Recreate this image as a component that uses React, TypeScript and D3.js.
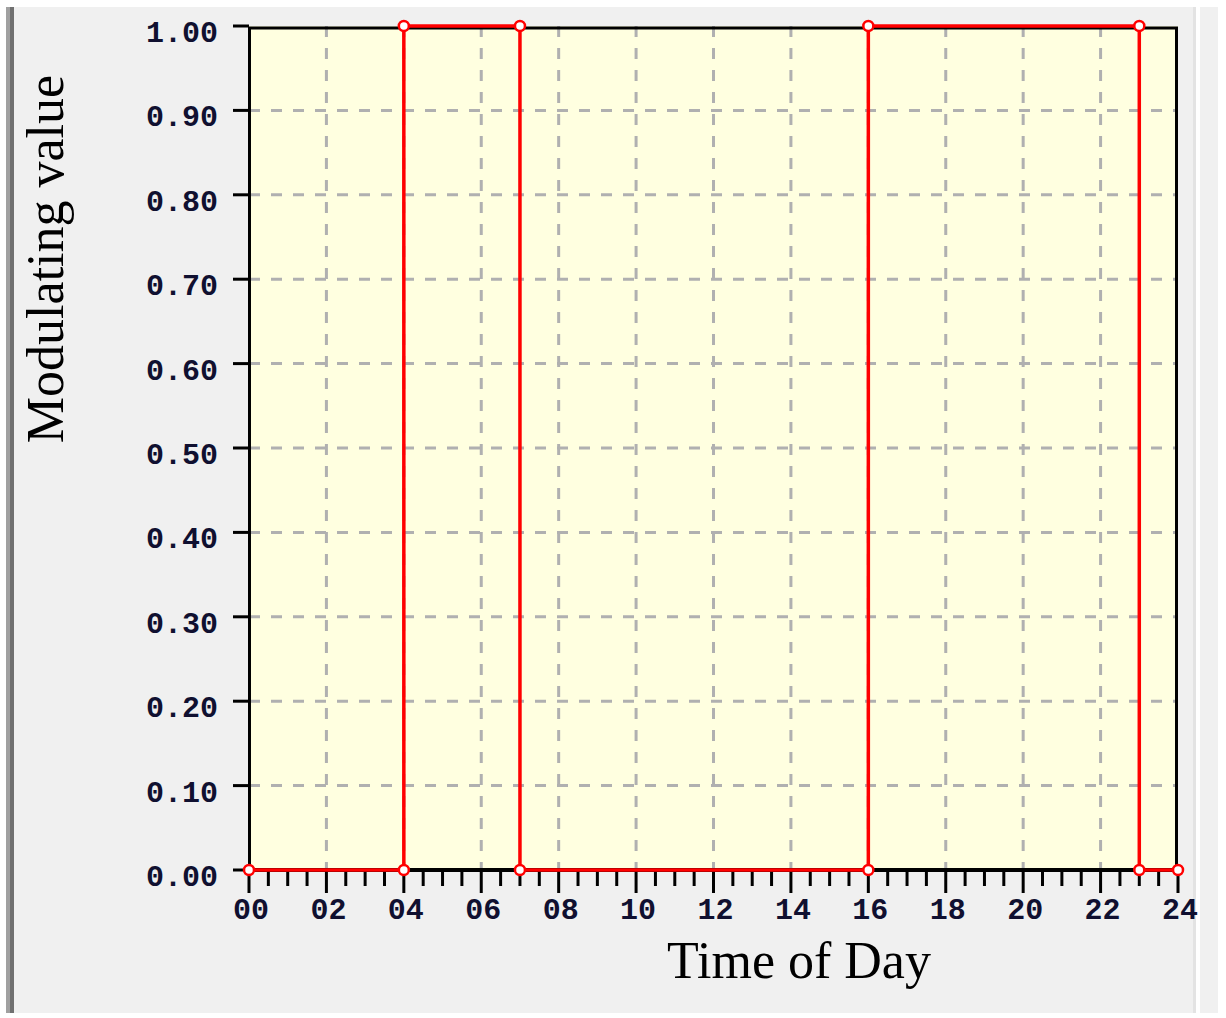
import React, { useRef, useEffect } from 'react';
import * as d3 from 'd3';

// Schedule: modulating value against hour of day (step changes)
const hours = [0, 4, 4, 7, 7, 16, 16, 23, 23, 24];
const values = [0, 0, 1, 1, 0, 0, 1, 1, 0, 0];
const xTickLabels = ['00', '02', '04', '06', '08', '10', '12', '14', '16', '18', '20', '22', '24'];
const yTickLabels = ['0.00', '0.10', '0.20', '0.30', '0.40', '0.50', '0.60', '0.70', '0.80', '0.90', '1.00'];

const App = () => {
    const svgRef = useRef<SVGSVGElement>(null);

    useEffect(() => {
        const width = 1226;
        const height = 1018;
        const left = 249;
        const right = 1178;
        const top = 26;
        const bottom = 870;

        const svg = d3.select(svgRef.current)
            .attr('width', width)
            .attr('height', height)
            .attr('viewBox', `0 0 ${width} ${height}`);

        svg.selectAll('*').remove();

        // window-ish background
        svg.append('rect').attr('width', width).attr('height', height).attr('fill', '#ffffff');
        svg.append('rect').attr('x', 6).attr('y', 7).attr('width', 1187).attr('height', 1006).attr('fill', '#f0f0f0');
        svg.append('rect').attr('x', 6).attr('y', 7).attr('width', 4).attr('height', 1006).attr('fill', '#a0a0a0');
        svg.append('rect').attr('x', 10).attr('y', 7).attr('width', 4).attr('height', 1006).attr('fill', '#707070');
        svg.append('rect').attr('x', 1193).attr('y', 7).attr('width', 3).attr('height', 1006).attr('fill', '#e3e3e3');
        svg.append('rect').attr('x', 1200).attr('y', 7).attr('width', 18).attr('height', 1006).attr('fill', '#f0f0f0');

        const data = hours.map((h, i) => ({ h, v: values[i] }));

        const x = d3.scaleLinear().domain([0, 24]).range([left, right]);
        const y = d3.scaleLinear().domain([0, 1]).range([bottom, top]);

        // plot area
        svg.append('rect')
            .attr('x', x(0)).attr('y', y(1))
            .attr('width', x(24) - x(0)).attr('height', y(0) - y(1))
            .attr('fill', '#ffffe0');

        // grid
        const grid = svg.append('g')
            .attr('stroke', '#b0b0b0')
            .attr('stroke-width', 3)
            .attr('stroke-dasharray', '11,11');
        grid.selectAll('line.v')
            .data(d3.range(2, 24, 2))
            .join('line')
            .attr('x1', d => x(d)).attr('x2', d => x(d))
            .attr('y1', y(1)).attr('y2', y(0));
        grid.selectAll('line.h')
            .data(d3.range(1, 10).map(d => d / 10))
            .join('line')
            .attr('y1', d => y(d)).attr('y2', d => y(d))
            .attr('x1', x(0)).attr('x2', x(24));

        // frame
        svg.append('rect')
            .attr('x', x(0) + 0.5).attr('y', y(1) + 2)
            .attr('width', x(24) - x(0) - 2).attr('height', y(0) - y(1) - 2)
            .attr('fill', 'none')
            .attr('stroke', '#000')
            .attr('stroke-width', 3);
        svg.append('line')
            .attr('x1', x(0)).attr('x2', x(24) - 1)
            .attr('y1', y(0)).attr('y2', y(0))
            .attr('stroke', '#000').attr('stroke-width', 4);

        // x ticks
        const xAxis = svg.append('g').attr('stroke', '#000').attr('stroke-width', 3);
        xAxis.selectAll('line')
            .data(d3.range(0, 48.5, 1).map(d => d / 2))
            .join('line')
            .attr('x1', d => x(d)).attr('x2', d => x(d))
            .attr('y1', y(0))
            .attr('y2', d => (d % 2 === 0 ? y(0) + 23 : y(0) + 16));

        svg.append('g')
            .selectAll('text')
            .data(xTickLabels)
            .join('text')
            .attr('x', (d, i) => x(i * 2) + 2)
            .attr('y', 919)
            .attr('text-anchor', 'middle')
            .attr('font-family', '"Liberation Mono", monospace')
            .attr('font-weight', 'bold')
            .attr('font-size', 30)
            .attr('fill', '#101030')
            .text(d => d);

        // y ticks
        svg.append('g').attr('stroke', '#000').attr('stroke-width', 3)
            .selectAll('line')
            .data(yTickLabels)
            .join('line')
            .attr('x1', x(0) - 16).attr('x2', x(0))
            .attr('y1', (d, i) => y(i / 10)).attr('y2', (d, i) => y(i / 10));

        svg.append('g')
            .selectAll('text')
            .data(yTickLabels)
            .join('text')
            .attr('x', 218)
            .attr('y', (d, i) => y(i / 10) + 16)
            .attr('text-anchor', 'end')
            .attr('font-family', '"Liberation Mono", monospace')
            .attr('font-weight', 'bold')
            .attr('font-size', 30)
            .attr('fill', '#101030')
            .text(d => d);

        // series
        const line = d3.line<{ h: number; v: number }>()
            .x(d => x(d.h))
            .y(d => y(d.v));

        svg.append('path')
            .datum(data)
            .attr('fill', 'none')
            .attr('stroke', '#ff0000')
            .attr('stroke-width', 3.5)
            .attr('d', line);

        svg.append('g')
            .selectAll('circle')
            .data(data)
            .join('circle')
            .attr('cx', d => x(d.h))
            .attr('cy', d => y(d.v))
            .attr('r', 5)
            .attr('fill', '#ffffff')
            .attr('stroke', '#ff0000')
            .attr('stroke-width', 2.5);

        // axis titles
        svg.append('text')
            .attr('x', 799)
            .attr('y', 978)
            .attr('text-anchor', 'middle')
            .attr('font-family', '"Liberation Serif", serif')
            .attr('font-size', 52)
            .attr('fill', '#000')
            .text('Time of Day');

        svg.append('text')
            .attr('transform', 'translate(63,259) rotate(-90)')
            .attr('text-anchor', 'middle')
            .attr('font-family', '"Liberation Serif", serif')
            .attr('font-size', 52)
            .attr('fill', '#000')
            .text('Modulating value');
    }, []);

    return (
        <svg ref={svgRef} style={{ position: 'absolute', left: 0, top: 0 }}></svg>
    );
};

export default App;
